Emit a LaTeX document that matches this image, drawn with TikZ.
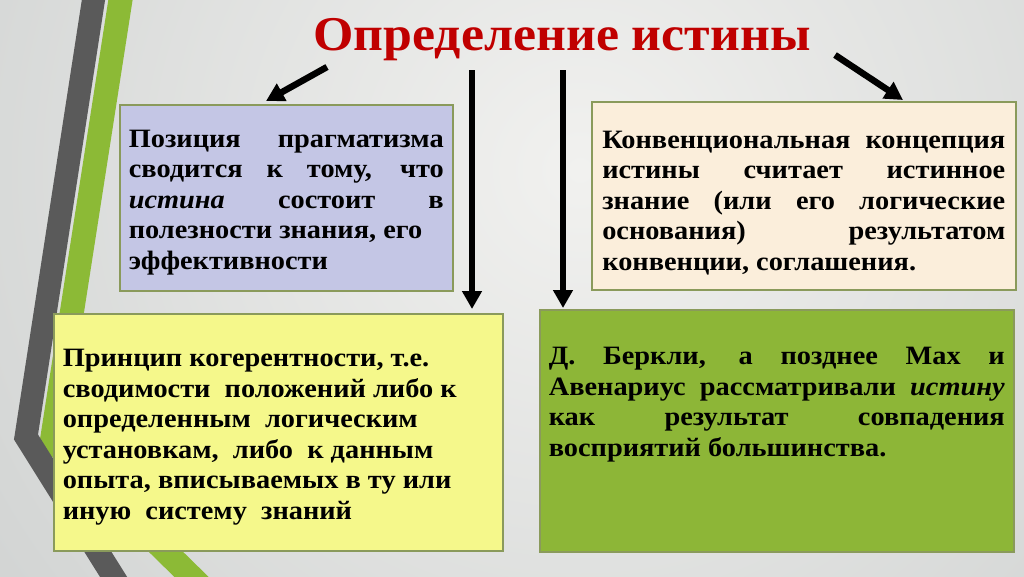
\documentclass[tikz,border=0pt]{standalone}
\usepackage{fontspec}
\setmainfont{Liberation Serif}[FakeStretch=1.07]
\usetikzlibrary{arrows.meta,calc}
\definecolor{titlered}{HTML}{C00000}
\definecolor{bgin}{HTML}{F1F1EF}
\definecolor{bgout}{HTML}{B9BDBD}
\definecolor{pragfill}{HTML}{C4C6E5}
\definecolor{convfill}{HTML}{FBEEDB}
\definecolor{cohfill}{HTML}{F5F88B}
\definecolor{sensfill}{HTML}{8DB637}
\definecolor{boxline}{HTML}{8A9A5B}
\definecolor{stripegray}{HTML}{5A5A5A}
\definecolor{stripegreen}{HTML}{8CBA36}
\newcommand{\fulline}[1]{\makebox[\linewidth][s]{#1}\\}
\tikzset{
  box/.style={draw=boxline, line width=1.6pt, inner xsep=9pt, inner ysep=0pt,
    anchor=north west, font=\bfseries\fontsize{26.5}{30.5}\selectfont},
  bigarrow/.style={line width=6.5pt, -{Triangle[length=18pt,width=19pt]}}
}
\begin{document}
\begin{tikzpicture}[x=1pt,y=-1pt]
  \useasboundingbox (0,0) rectangle (1024,576);
  \begin{scope}
    \clip (0,0) rectangle (1024,576);
    \shade[inner color=bgin, outer color=bgout] (580,170) circle (1300);
    \draw[stripegreen, line width=24pt, line join=miter] (122,-10) -- (52,440) -- (215,600);
    \draw[stripegray, line width=23pt, line join=miter] (95,-10) -- (26,437) -- (128,600);
  \end{scope}

  \node[font=\bfseries\fontsize{48.5}{58}\selectfont, text=titlered] (title) at (562,40) {Определение истины};

  \node[box, fill=pragfill] (prag) at (119,104) {\parbox[t][186pt][t]{315pt}{\vspace*{21pt}\strut
    \fulline{Позиция прагматизма}\fulline{сводится к тому, что}\fulline{\textit{истина} состоит в}полезности знания, его\\эффективности}};
  \node[box, fill=convfill, inner xsep=10.5pt] (conv) at (591,101) {\parbox[t][188pt][t]{403pt}{\vspace*{25pt}\strut
    \fulline{Конвенциональная концепция}\fulline{истины считает истинное}\fulline{знание (или его логические}\fulline{основания) результатом}конвенции, соглашения.}};
  \node[box, fill=cohfill] (coh) at (53,313) {\parbox[t][237pt][t]{431pt}{\raggedright\vspace*{31.6pt}\strut
    Принцип когерентности, т.е.\\сводимости\ \ положений либо к\\определенным\ \ логическим\\установкам,\ \ либо\ \ к данным\\опыта, вписываемых в ту или\\иную\ \ систему\ \ знаний}};
  \node[box, fill=sensfill] (sens) at (539,309) {\parbox[t][242pt][t]{456pt}{\vspace*{33.6pt}\strut
    \fulline{Д. Беркли, а позднее Мах и}\fulline{Авенариус рассматривали \textit{истину}}\fulline{как результат совпадения}восприятий большинства.}};

  \coordinate (s1) at (327,67);
  \coordinate (s2) at (472,70);
  \coordinate (s3) at (563,70);
  \coordinate (s4) at (835,55);
  \draw[bigarrow] (s1) -- ($(prag.north west)+(147,-3)$);
  \draw[bigarrow] (s2) -- ($(coh.north west)+(419,-4)$);
  \draw[bigarrow] (s3) -- ($(sens.north west)+(24,-1)$);
  \draw[bigarrow] (s4) -- ($(conv.north west)+(312,-1)$);
\end{tikzpicture}
\end{document}
